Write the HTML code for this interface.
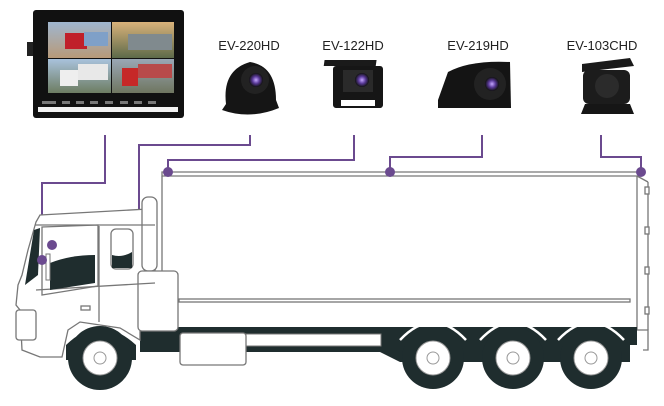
<!DOCTYPE html>
<html><head><style>
html,body{margin:0;padding:0;background:#fff;width:664px;height:406px;overflow:hidden}
</style></head><body>
<svg width="664" height="406" viewBox="0 0 664 406" xmlns="http://www.w3.org/2000/svg" font-family="Liberation Sans, sans-serif">
<defs>
<linearGradient id="q1" x1="0" y1="0" x2="0" y2="1"><stop offset="0" stop-color="#9fb6cf"/><stop offset="1" stop-color="#b89a78"/></linearGradient>
<linearGradient id="q2" x1="0" y1="0" x2="0" y2="1"><stop offset="0" stop-color="#d9b27a"/><stop offset="1" stop-color="#5d6a4a"/></linearGradient>
<linearGradient id="q3" x1="0" y1="0" x2="0" y2="1"><stop offset="0" stop-color="#a9c2dc"/><stop offset="1" stop-color="#6d7d62"/></linearGradient>
<linearGradient id="q4" x1="0" y1="0" x2="0" y2="1"><stop offset="0" stop-color="#9aa7b5"/><stop offset="1" stop-color="#6f7660"/></linearGradient>
<radialGradient id="lens"><stop offset="0" stop-color="#c6a8ff"/><stop offset="0.5" stop-color="#5a3a9a"/><stop offset="1" stop-color="#111"/></radialGradient>
</defs>

<!-- monitor -->
<rect x="27" y="42" width="8" height="14" fill="#222"/>
<rect x="176" y="42" width="8" height="14" fill="#222"/>
<rect x="33" y="10" width="151" height="108" rx="3" fill="#111"/>
<rect x="48" y="22" width="63" height="36" fill="url(#q1)"/>
<rect x="112" y="22" width="62" height="36" fill="url(#q2)"/>
<rect x="48" y="59" width="63" height="34" fill="url(#q3)"/>
<rect x="112" y="59" width="62" height="34" fill="url(#q4)"/>
<rect x="65" y="33" width="22" height="16" fill="#c0202a"/>
<rect x="84" y="32" width="24" height="14" fill="#7fa0c8"/>
<rect x="60" y="70" width="18" height="16" fill="#eee"/>
<rect x="78" y="64" width="30" height="16" fill="#e8e8e8"/>
<rect x="122" y="68" width="16" height="18" fill="#c62828"/>
<rect x="138" y="64" width="34" height="14" fill="#b84a4a"/>
<rect x="128" y="34" width="44" height="16" fill="#808a8e"/>
<g fill="#777"><rect x="42" y="101" width="14" height="3"/><rect x="62" y="101" width="8" height="3"/><rect x="76" y="101" width="8" height="3"/><rect x="90" y="101" width="8" height="3"/><rect x="105" y="101" width="8" height="3"/><rect x="120" y="101" width="8" height="3"/><rect x="134" y="101" width="8" height="3"/><rect x="148" y="101" width="8" height="3"/></g>
<rect x="38" y="107" width="140" height="5" fill="#f2f2f2"/>

<!-- labels -->
<g font-size="13" fill="#222" text-anchor="middle">
<text x="249" y="50">EV-220HD</text>
<text x="353" y="50">EV-122HD</text>
<text x="478" y="50">EV-219HD</text>
<text x="602" y="50">EV-103CHD</text>
</g>

<!-- cameras -->
<path d="M226 104 Q222 70 250 62 Q276 66 276 100 L279 108 Q250 120 222 110 Z" fill="#151515"/>
<circle cx="255" cy="80" r="14" fill="#222"/><circle cx="256" cy="80" r="7" fill="url(#lens)"/>
<rect x="333" y="60" width="52" height="6" fill="#1a1a1a" transform="skewX(-8)"/>
<rect x="333" y="66" width="50" height="42" rx="3" fill="#161616"/>
<rect x="343" y="70" width="30" height="22" fill="#2a2a2a"/><circle cx="362" cy="80" r="7" fill="url(#lens)"/>
<rect x="341" y="100" width="34" height="6" fill="#fff"/>
<path d="M438 100 L448 72 Q470 60 510 62 L511 108 L438 108 Z" fill="#141414"/>
<circle cx="490" cy="84" r="16" fill="#222"/><circle cx="492" cy="84" r="7" fill="url(#lens)"/>
<path d="M582 64 L630 58 L634 66 L582 72 Z" fill="#1a1a1a"/>
<rect x="583" y="70" width="47" height="34" rx="6" fill="#1c1c1c"/>
<circle cx="607" cy="86" r="12" fill="#2b2b2b"/>
<path d="M585 104 L630 104 L634 114 L581 114 Z" fill="#161616"/>

<!-- purple lines -->
<g stroke="#6b4a8f" stroke-width="2" fill="none">
<polyline points="105,135 105,183 42,183 42,260"/>
<polyline points="250,135 250,145 139,145 139,245 52,245"/>
<polyline points="354,135 354,160 168,160 168,172"/>
<polyline points="482,135 482,157 390,157 390,172"/>
<polyline points="601,135 601,157 641,157 641,172"/>
</g>

<!-- truck box -->
<g stroke="#777" stroke-width="1.3" fill="#fff">
<path d="M162 172 L640 172 L640 176 L162 176 Z"/>
<path d="M162 176 L162 330 M637 176 L637 330 L648 330 L648 350 L643 350"/>
<line x1="637" y1="176" x2="648" y2="182"/>
<line x1="648" y1="182" x2="648" y2="330"/>
<rect x="179" y="299" width="451" height="3"/>
<rect x="645" y="187" width="4" height="7"/><rect x="645" y="227" width="4" height="7"/><rect x="645" y="267" width="4" height="7"/><rect x="645" y="307" width="4" height="7"/>
</g>
<!-- chassis -->
<path d="M140 327 L637 327 L637 345 L630 345 L630 362 L600 362 L400 362 L380 352 L250 352 L140 352 Z" fill="#1f2d2e"/>
<rect x="246" y="334" width="135" height="12" fill="#fff" stroke="#777"/>
<rect x="180" y="333" width="66" height="32" rx="3" fill="#fff" stroke="#777" stroke-width="1.3"/>
<!-- cab -->
<g stroke="#777" stroke-width="1.3" fill="#fff">
<path d="M40 215 L148 209 L155 224 L155 327 L140 327 L140 340 L120 328 L80 322 L68 330 L62 357 L40 357 L22 350 L20 310 L16 305 L18 285 L22 275 L28 250 L36 222 Z"/>
<rect x="142" y="197" width="15" height="74" rx="6"/>
<rect x="138" y="271" width="40" height="60" rx="4"/>
<path d="M42 227 L98 225 L98 286 L42 295 Z"/>
<rect x="111" y="229" width="22" height="40" rx="5"/>
<line x1="36" y1="290" x2="155" y2="283"/>
<line x1="99" y1="226" x2="99" y2="322"/>
<line x1="35" y1="225" x2="155" y2="225"/>
<rect x="81" y="306" width="9" height="4"/>
<rect x="16" y="310" width="20" height="30" rx="3"/>
</g>
<path d="M50 263 Q70 255 95 255 L95 283 L50 290 Z" fill="#1f2d2e"/>
<path d="M112 255 Q122 258 132 252 L132 268 L112 268 Z" fill="#1f2d2e"/>
<path d="M34 230 L40 228 L38 275 L25 285 Z" fill="#1f2d2e"/>
<rect x="46" y="254" width="4" height="26" fill="#fff" stroke="#777"/>
<!-- fender arches -->
<path d="M66 345 Q100 312 136 345 L136 360 L66 360 Z" fill="#1f2d2e"/>
<!-- wheels -->
<g>
<circle cx="100" cy="358" r="32" fill="#1f2d2e"/>
<circle cx="433" cy="358" r="31" fill="#1f2d2e"/>
<circle cx="513" cy="358" r="31" fill="#1f2d2e"/>
<circle cx="591" cy="358" r="31" fill="#1f2d2e"/>
</g>
<g fill="none" stroke="#fff" stroke-width="2.5">
<path d="M400 340 Q433 305 466 340"/><path d="M480 340 Q513 305 546 340"/><path d="M558 340 Q591 305 624 340"/>
</g>
<g fill="#fff" stroke="#999" stroke-width="1">
<circle cx="100" cy="358" r="17"/><circle cx="433" cy="358" r="17"/><circle cx="513" cy="358" r="17"/><circle cx="591" cy="358" r="17"/>
<circle cx="100" cy="358" r="6"/><circle cx="433" cy="358" r="6"/><circle cx="513" cy="358" r="6"/><circle cx="591" cy="358" r="6"/>
</g>

<!-- dots -->
<g fill="#6b4a8f">
<circle cx="168" cy="172" r="5"/><circle cx="390" cy="172" r="5"/><circle cx="641" cy="172" r="5"/>
<circle cx="42" cy="260" r="5"/><circle cx="52" cy="245" r="5"/>
</g>
</svg>
</body></html>
